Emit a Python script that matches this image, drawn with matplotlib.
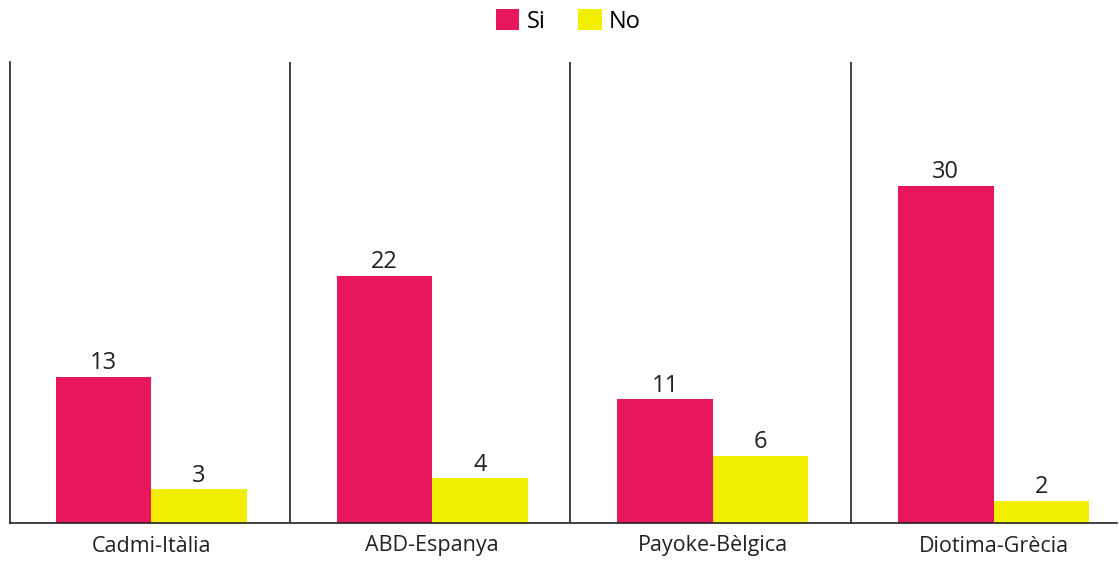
import matplotlib
matplotlib.use("Agg")
import matplotlib.pyplot as plt
import numpy as np

plt.rcParams['font.family'] = ['Open Sans', 'DejaVu Sans']

groups = ['Cadmi-Itàlia', 'ABD-Espanya', 'Payoke-Bèlgica', 'Diotima-Grècia']
si_values = [13, 22, 11, 30]
no_values = [3, 4, 6, 2]

PINK = '#E8175D'
YELLOW = '#F2F000'

fig = plt.figure(figsize=(11.19, 5.64), dpi=100)
ax = fig.add_axes([10 / 1119, 1 - 523 / 564, 1107 / 1119, 461 / 564])

x = np.arange(len(groups))
w = 0.34
b1 = ax.bar(x - w / 2, si_values, w, color=PINK, label='Si')
b2 = ax.bar(x + w / 2, no_values, w, color=YELLOW, label='No')

for bars in (b1, b2):
    for rect in bars:
        ax.annotate(f'{int(rect.get_height())}',
                    (rect.get_x() + rect.get_width() / 2, rect.get_height()),
                    xytext=(0, 1), textcoords='offset points',
                    ha='center', va='bottom', fontsize=17, color='#222222')

# group separators
for sep in x[1:] - 0.508:
    ax.axvline(sep, color='#222222', linewidth=1.2)

ax.set_xlim(-0.504, 3.44)
ax.set_ylim(0, 41)
ax.set_xticks(x)
ax.set_xticklabels(groups, fontsize=15.5, color='#222222')
ax.tick_params(axis='x', length=0, pad=9)
ax.set_yticks([])
for side in ('top', 'right'):
    ax.spines[side].set_visible(False)
for side in ('left', 'bottom'):
    ax.spines[side].set_linewidth(1.2)
    ax.spines[side].set_color('#222222')

fig.legend(handles=[b1, b2], loc='center', bbox_to_anchor=(0.508, 0.962),
           ncol=2, frameon=False, fontsize=17, handlelength=1.0,
           handleheight=1.0, handletextpad=0.3, columnspacing=1.4)

fig.savefig('out.png', dpi=100)
